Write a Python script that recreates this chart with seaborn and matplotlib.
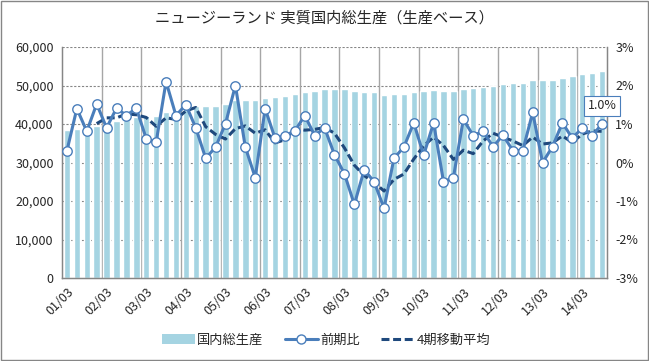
import numpy as np
import pandas as pd
import matplotlib
matplotlib.use("Agg")
import matplotlib.pyplot as plt
import seaborn as sns
from matplotlib.patches import Rectangle, Patch
from matplotlib.lines import Line2D

years = ["01", "02", "03", "04", "05", "06", "07", "08", "09", "10", "11", "12", "13", "14"]
months = ["03", "06", "09", "12"]
quarters = [f"{y}/{m}" for y in years for m in months][:55]
tick_labels = ["01/03", "02/03", "03/03", "04/03", "05/03", "06/03", "07/03",
               "08/03", "09/03", "10/03", "11/03", "12/03", "13/03", "14/03"]

gdp = [38340, 38780, 39050, 39450, 39900, 40650, 41050, 41750, 41950, 42160,
       43020, 43500, 44150, 44550, 44740, 44780, 45270, 46150, 46300, 46130,
       46830, 47090, 47350, 47870, 48390, 48650, 49170, 49170, 49170, 48650,
       48390, 48350, 47650, 47700, 47900, 48420, 48450, 48920, 48650, 48600,
       49170, 49430, 49690, 49950, 50470, 50550, 50730, 51300, 51300, 51510,
       52030, 52550, 52900, 53330, 53850]

qoq = [0.31, 1.40, 0.81, 1.52, 0.90, 1.41, 1.22, 1.41, 0.62, 0.52,
       2.10, 1.22, 1.50, 0.90, 0.11, 0.40, 1.01, 2.00, 0.40, -0.39,
       1.40, 0.63, 0.70, 0.82, 1.22, 0.70, 0.90, 0.20, -0.29, -1.09,
       -0.19, -0.50, -1.19, 0.11, 0.40, 1.03, 0.19, 1.03, -0.50, -0.39,
       1.12, 0.70, 0.81, 0.41, 0.71, 0.31, 0.31, 1.30, 0.00, 0.41,
       1.03, 0.63, 0.90, 0.70, 1.00]

ma4 = [np.nan, np.nan, np.nan, 1.01, 1.16, 1.16, 1.26, 1.24, 1.17, 0.94,
       1.16, 1.12, 1.34, 1.43, 0.93, 0.73, 0.61, 0.88, 0.95, 0.76,
       0.85, 0.51, 0.59, 0.89, 0.84, 0.86, 0.91, 0.76, 0.38, -0.07,
       -0.34, -0.52, -0.74, -0.44, -0.30, 0.09, 0.43, 0.66, 0.44, 0.08,
       0.32, 0.23, 0.56, 0.76, 0.66, 0.56, 0.44, 0.66, 0.48, 0.51,
       0.69, 0.52, 0.74, 0.82, 0.81]

sns.set_style("white")
plt.rcParams['font.family'] = ['Noto Sans CJK JP', 'DejaVu Sans']

df = pd.DataFrame({"q": quarters, "gdp": gdp, "qoq": qoq, "ma4": ma4,
                   "idx": np.arange(len(quarters))})

fig = plt.figure(figsize=(6.49, 3.61), dpi=100)
ax = fig.add_axes([62/649, 1-278/361, (607-62)/649, (278-47)/361])

bar_color = "#A5D4E2"
line_color = "#4A7EBB"
ma_color = "#1F497D"
grid_gray = "#A6A6A6"
axis_gray = "#868686"
lw = 2.2
dash = (0, (2.6, 1.2))

sns.barplot(data=df, x="q", y="gdp", color=bar_color, width=0.66,
            saturation=1, ax=ax, zorder=2)
ax.set_xlim(-0.5, len(quarters) - 0.5)
ax.set_ylim(0, 60000)
ax.set_yticks(np.arange(0, 60001, 10000))
ax.set_yticklabels([f"{v:,}" for v in range(0, 60001, 10000)], fontsize=9)
ax.set_xlabel("")
ax.set_ylabel("")

for v in range(10000, 60001, 10000):
    ax.axhline(v, color=axis_gray, lw=0.8, ls=(0, (2, 1.5)), zorder=1)
for b in np.arange(3.5, len(quarters), 4):
    ax.axvline(b, color=grid_gray, lw=1, zorder=1)

ax.set_xticks(np.arange(0, len(quarters), 4))
ax.set_xticklabels(tick_labels, rotation=45, ha="right", rotation_mode="anchor",
                   fontsize=9)
ax.tick_params(axis="x", which="major", length=0, pad=5)
ax.set_xticks(np.arange(-0.5, len(quarters), 4), minor=True)
ax.tick_params(axis="x", which="minor", length=4, color=axis_gray, direction="out")
ax.tick_params(axis="y", length=0, pad=6)

for s in ["left", "bottom", "right"]:
    ax.spines[s].set_color(axis_gray)
    ax.spines[s].set_linewidth(1)
ax.spines["top"].set_visible(False)

ax2 = ax.twinx()
sns.lineplot(data=df, x="idx", y="ma4", ax=ax2, color=ma_color, lw=lw,
             dashes=False, zorder=3)
ax2.lines[-1].set_linestyle(dash)
sns.lineplot(data=df, x="idx", y="qoq", ax=ax2, color=line_color, lw=lw,
             marker="o", markersize=6.8, markerfacecolor="white",
             markeredgecolor=line_color, markeredgewidth=1.0, zorder=4)
ax2.set_ylim(-3, 3)
ax2.set_xlim(-0.5, len(quarters) - 0.5)
ax2.set_yticks(np.arange(-3, 4, 1))
ax2.set_yticklabels([f"{v}%" for v in range(-3, 4)], fontsize=9)
ax2.tick_params(axis="y", length=0, pad=6)
ax2.set_ylabel("")
ax2.set_xlabel("")
for s in ["left", "bottom", "right"]:
    ax2.spines[s].set_color(axis_gray)
ax2.spines["top"].set_visible(False)

ax2.annotate(f"{qoq[-1]:.1f}%", xy=(len(quarters) - 1, qoq[-1]),
             xytext=(0, 13), textcoords="offset points", ha="center", va="center",
             fontsize=9,
             bbox=dict(boxstyle="square,pad=0.3", fc="white", ec=line_color, lw=0.8))

fig.text(0.5, 1-18/361, "ニュージーランド 実質国内総生産（生産ベース）",
         ha="center", va="center", fontsize=11)

handles = [Patch(facecolor=bar_color, edgecolor="none"),
           Line2D([0], [0], color=line_color, lw=lw, marker="o", markersize=6.5,
                  markerfacecolor="white", markeredgecolor=line_color),
           Line2D([0], [0], color=ma_color, lw=lw, ls=dash)]
fig.legend(handles, ["国内総生産", "前期比", "4期移動平均"], ncol=3,
           loc="center", bbox_to_anchor=(326/649, 1-340/361), frameon=False,
           fontsize=9.5, handlelength=2.5, columnspacing=1.6, handletextpad=0.2)

fig.patches.append(Rectangle((0.001, 0.002), 0.997, 0.995, transform=fig.transFigure,
                             fill=False, edgecolor=axis_gray, lw=1))

fig.savefig("out.png", dpi=100)
